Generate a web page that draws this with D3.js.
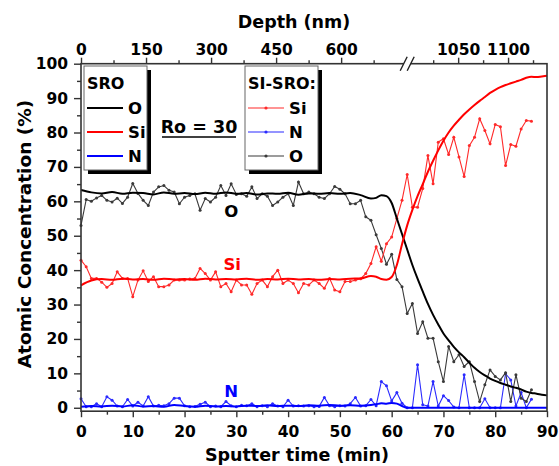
<!DOCTYPE html>
<html>
<head>
<meta charset="utf-8">
<script src="https://cdn.jsdelivr.net/npm/d3@7"></script>
<style>
  body { margin: 0; background: #fff; }
  svg { display: block; font-family: "DejaVu Sans", sans-serif; font-weight: bold; }
</style>
</head>
<body>
<script>
// SRO reference profiles (smooth lines)
const sroTime = [0, 2, 4, 6, 8, 10, 12, 14, 16, 18, 20, 22, 24, 26, 28, 30, 32, 34, 36, 38, 40, 42, 44, 46, 48, 50, 52, 54, 56,
  57, 58, 59, 60, 61, 62, 63, 64, 65, 66, 67, 68, 69, 70, 71, 72, 73, 74, 75, 76, 77, 78, 79, 80, 81, 82, 83, 84, 85, 86, 87, 88, 89, 90];
const sroO = [63.3, 62.6, 62.3, 62.7, 62.2, 62.5, 62.4, 62.0, 62.6, 62.2, 62.4, 62.1, 62.5, 62.2, 62.6, 62.2, 62.4, 62.0, 62.3, 62.2, 62.5, 61.9, 62.3, 62.2, 62.4, 62.2, 62.4, 61.8, 60.8,
  61.0, 61.8, 61.5, 59.5, 55.0, 50.5, 46.0, 41.5, 37.5, 33.8, 30.2, 27.0, 24.2, 21.6, 19.6, 17.7, 16.1, 14.7, 13.1, 11.6, 10.4, 9.4, 8.5, 7.8, 7.2, 6.7, 6.2, 5.8, 5.3, 4.7, 4.3, 4.1, 3.8, 3.6];
const sroSi = [35.6, 37.0, 37.4, 37.2, 37.5, 37.3, 37.4, 37.2, 37.5, 37.3, 37.4, 37.2, 37.5, 37.3, 37.4, 37.3, 37.5, 37.2, 37.4, 37.3, 37.5, 37.3, 37.4, 37.2, 37.4, 37.3, 37.5, 37.6, 38.3,
  38.1, 37.4, 37.2, 38.0, 41.5, 47.5, 53.0, 57.5, 61.5, 65.0, 68.6, 71.8, 74.8, 77.6, 80.0, 82.0, 83.7, 85.3, 86.7, 88.0, 89.2, 90.3, 91.5, 92.4, 93.2, 93.8, 94.3, 94.8, 95.3, 95.9, 96.2, 96.1, 96.3, 96.5];
const sroN = [0.3, 0.5, 0.4, 0.6, 0.4, 0.7, 0.4, 0.5, 0.3, 0.8, 0.5, 0.3, 0.6, 0.4, 0.5, 0.4, 0.6, 0.5, 0.7, 0.5, 0.6, 0.5, 0.7, 0.6, 0.8, 0.6, 0.7, 0.6, 0.8,
  1.0, 1.3, 1.2, 1.4, 1.2, 0.5, 0, 0, 0, 0, 0, 0, 0, 0, 0, 0, 0, 0, 0, 0, 0, 0, 0, 0, 0, 0, 0, 0, 0, 0, 0, 0, 0, 0];

// SI-SRO measured points (one per minute)
const scanTime = [0, 1, 2, 3, 4, 5, 6, 7, 8, 9, 10, 11, 12, 13, 14, 15, 16, 17, 18, 19, 20, 21, 22, 23, 24, 25, 26, 27, 28, 29,
  30, 31, 32, 33, 34, 35, 36, 37, 38, 39, 40, 41, 42, 43, 44, 45, 46, 47, 48, 49, 50, 51, 52, 53, 54, 55, 56, 57, 58, 59,
  60, 61, 62, 63, 64, 65, 66, 67, 68, 69, 70, 71, 72, 73, 74, 75, 76, 77, 78, 79, 80, 81, 82, 83, 84, 85, 86, 87];
const siSi = [42.9, 41.0, 37.6, 37.6, 36.5, 35.0, 36.1, 39.5, 37.6, 37.6, 32.3, 37.1, 39.8, 36.7, 38.1, 35.2, 35.2, 35.7, 37.1, 37.1, 37.1, 37.4, 37.6, 40.5, 39.0, 37.1, 39.5, 35.2, 36.1, 33.7,
  37.1, 35.7, 35.7, 33.0, 36.1, 37.1, 35.2, 38.1, 40.0, 36.1, 37.1, 36.1, 33.4, 36.1, 35.7, 37.1, 36.1, 34.7, 37.6, 34.2, 33.7, 36.7, 36.7, 37.1, 37.5, 39.0, 41.9, 46.8, 42.6, 47.7,
  49.6, 55.0, 60.3, 67.8, 58.3, 58.3, 63.7, 73.3, 65.1, 77.2, 78.2, 73.6, 78.6, 72.9, 67.2, 76.2, 78.6, 84.0, 80.6, 76.7, 82.3, 81.7, 70.4, 76.5, 76.0, 81.0, 83.5, 83.3];
const siN = [2.6, 0.3, 0.3, 1.2, 0.3, 3.2, 2.2, 0.5, 0.3, 2.4, 0.5, 1.6, 0.5, 3.2, 0.5, 0.7, 0.6, 1.2, 2.8, 2.8, 0.6, 0.3, 0.4, 1.0, 1.6, 0.3, 0.5, 0.3, 1.8, 0.6,
  0.3, 0.7, 0.6, 1.2, 0.3, 0.6, 0.3, 1.2, 0.5, 0.3, 2.2, 0.5, 0.6, 0.5, 0.6, 0.3, 0.4, 3.0, 0.6, 0.3, 0.6, 0.5, 1.2, 3.0, 0.5, 0.6, 2.4, 0.6, 7.6, 6.4,
  2.0, 4.4, 1.3, 0, 0, 12.5, 0.9, 0.5, 7.6, 0.5, 3.5, 2.1, 0.2, 0, 9.6, 0, 0, 0, 2.6, 0, 0, 0, 9.9, 8.1, 0.5, 4.4, 0, 2.5];
const siO = [53.0, 60.5, 60.0, 61.0, 61.7, 60.3, 59.8, 60.9, 59.4, 61.2, 65.2, 62.3, 60.3, 58.8, 62.7, 64.2, 64.6, 63.2, 62.7, 59.3, 61.2, 61.7, 62.2, 57.4, 60.8, 59.8, 61.2, 64.6, 61.7, 65.1,
  62.0, 62.2, 61.5, 64.2, 60.8, 62.2, 61.5, 58.8, 59.8, 61.2, 62.2, 58.8, 65.6, 62.2, 62.7, 62.2, 61.2, 60.8, 62.2, 64.3, 63.5, 62.2, 59.3, 59.3, 60.3, 55.5, 54.5, 50.3, 46.3, 41.7,
  44.6, 37.3, 35.2, 27.4, 30.3, 21.6, 25.0, 20.2, 20.2, 13.4, 7.6, 17.8, 13.4, 15.4, 12.0, 13.4, 7.6, 1.8, 6.7, 11.0, 9.1, 8.1, 10.2, 1.8, 9.6, 2.8, 1.8, 5.2];

// axis ticks
const yTicks = [0, 10, 20, 30, 40, 50, 60, 70, 80, 90, 100];
const yMinor = [5, 15, 25, 35, 45, 55, 65, 75, 85, 95];
const xTicks = [0, 10, 20, 30, 40, 50, 60, 70, 80, 90];
const xMinor = [5, 15, 25, 35, 45, 55, 65, 75, 85];
const depthTicks = [0, 150, 300, 450, 600, 1050, 1100];
const depthMinor = [75, 225, 375, 525, 675, 1025, 1075, 1125];
// broken depth axis: depth (nm) -> sputter time (min)
const depthKnots = [0, 750, 1000, 1139];
const depthAtTime = [0, 62.8, 63.2, 90];

var draw = function() {
  let width = 559, height = 466;
  let margin = {left: 81, right: 12, top: 63.7, bottom: 54.8};

  let x = d3.scaleLinear().domain([0, 90]).range([margin.left, width - margin.right]);
  let y = d3.scaleLinear().domain([-1, 100]).range([height - margin.bottom, margin.top]);
  let depth = d3.scaleLinear().domain(depthKnots).range(depthAtTime.map(x));

  let svg = d3.select("body")
              .append("svg")
              .attr("width", width)
              .attr("height", height);

  let lineSpec = d3.line()
                   .x(d => x(d[0]))
                   .y(d => y(d[1]));

  let noisy = [
    {vals: siN, color: "#2a2aff"},
    {vals: siO, color: "#3a3a3a"},
    {vals: siSi, color: "#ff2a2a"},
  ];
  noisy.forEach(s => {
    let pts = scanTime.map((t, i) => [t, s.vals[i]]);
    svg.append("path")
       .datum(pts)
       .attr("fill", "none")
       .attr("stroke", s.color)
       .attr("stroke-width", 1.1)
       .attr("d", lineSpec);
    svg.append("g")
       .selectAll("circle")
       .data(pts)
       .join("circle")
       .attr("cx", d => x(d[0]))
       .attr("cy", d => y(d[1]))
       .attr("r", 1.5)
       .attr("fill", s.color);
  });

  let smooth = [
    {vals: sroN, color: "#0000ff"},
    {vals: sroO, color: "#000000"},
    {vals: sroSi, color: "#ff0000"},
  ];
  let smoothSpec = d3.line()
                     .x(d => x(d[0]))
                     .y(d => y(d[1]))
                     .curve(d3.curveMonotoneX);
  smooth.forEach(s => {
    svg.append("path")
       .datum(sroTime.map((t, i) => [t, s.vals[i]]))
       .attr("fill", "none")
       .attr("stroke", s.color)
       .attr("stroke-width", 2)
       .attr("d", smoothSpec);
  });

  // axes
  let axisColor = "#333";
  let styleAxis = function(g) {
    g.select(".domain").remove();
    g.selectAll("line").attr("stroke", axisColor).attr("stroke-width", 1.4);
    g.selectAll("text").attr("fill", "#000").attr("font-size", "15.5px")
     .attr("font-family", "DejaVu Sans").attr("font-weight", "bold");
  };

  svg.append("g")
     .attr("transform", `translate(${margin.left},0)`)
     .call(d3.axisLeft(y).tickValues(yTicks).tickSize(7).tickPadding(6))
     .call(styleAxis);
  svg.append("g")
     .attr("transform", `translate(${margin.left},0)`)
     .call(d3.axisLeft(y).tickValues(yMinor).tickSize(4).tickFormat(""))
     .call(styleAxis);

  svg.append("g")
     .attr("transform", `translate(0,${height - margin.bottom})`)
     .call(d3.axisBottom(x).tickValues(xTicks).tickSize(6).tickPadding(9))
     .call(styleAxis);
  svg.append("g")
     .attr("transform", `translate(0,${height - margin.bottom})`)
     .call(d3.axisBottom(x).tickValues(xMinor).tickSize(3.5).tickFormat(""))
     .call(styleAxis);

  svg.append("g")
     .attr("transform", `translate(0,${margin.top})`)
     .call(d3.axisTop(depth).tickValues(depthTicks).tickSize(6).tickPadding(3).tickFormat(d3.format("d")))
     .call(styleAxis);
  svg.append("g")
     .attr("transform", `translate(0,${margin.top})`)
     .call(d3.axisTop(depth).tickValues(depthMinor).tickSize(3.5).tickFormat(""))
     .call(styleAxis);

  // frame
  svg.append("rect")
     .attr("x", margin.left)
     .attr("y", margin.top)
     .attr("width", width - margin.left - margin.right)
     .attr("height", height - margin.top - margin.bottom)
     .attr("fill", "none")
     .attr("stroke", axisColor)
     .attr("stroke-width", 1.6);

  // axis break marks on the depth axis
  let bx = depth(875);
  svg.append("rect")
     .attr("x", bx - 3.5).attr("y", margin.top - 2)
     .attr("width", 7).attr("height", 4)
     .attr("fill", "#fff");
  [-3.5, 3.5].forEach(off => {
    svg.append("line")
       .attr("x1", bx + off - 3.5).attr("y1", margin.top + 7)
       .attr("x2", bx + off + 3.5).attr("y2", margin.top - 7)
       .attr("stroke", "#222")
       .attr("stroke-width", 1.4);
  });

  // titles
  svg.append("text")
     .attr("x", 294).attr("y", 28)
     .attr("text-anchor", "middle")
     .attr("font-size", "17.5px")
     .text("Depth (nm)");
  svg.append("text")
     .attr("x", 297).attr("y", 461)
     .attr("text-anchor", "middle")
     .attr("font-size", "17.5px")
     .text("Sputter time (min)");
  svg.append("text")
     .attr("transform", "translate(31,234) rotate(-90)")
     .attr("text-anchor", "middle")
     .attr("font-size", "18.5px")
     .text("Atomic Concentration (%)");

  // curve labels
  svg.append("text").attr("x", x(29)).attr("y", y(55.5)).attr("text-anchor", "middle")
     .attr("font-size", "16.5px").attr("fill", "#000").text("O");
  svg.append("text").attr("x", x(29.2)).attr("y", y(40)).attr("text-anchor", "middle")
     .attr("font-size", "16.5px").attr("fill", "#ff0000").text("Si");
  svg.append("text").attr("x", x(29)).attr("y", y(3.1)).attr("text-anchor", "middle")
     .attr("font-size", "16.5px").attr("fill", "#0000ff").text("N");

  // Ro = 30
  svg.append("text")
     .attr("x", 199).attr("y", 133)
     .attr("text-anchor", "middle")
     .attr("font-size", "17.5px")
     .text("Ro = 30");
  svg.append("line")
     .attr("x1", 162).attr("x2", 236)
     .attr("y1", 137).attr("y2", 137)
     .attr("stroke", "#000").attr("stroke-width", 1.5);

  // legends
  let legend = function(bx, by, bw, bh, title, items, dotted) {
    svg.append("rect")
       .attr("x", bx + 4).attr("y", by + 4)
       .attr("width", bw).attr("height", bh)
       .attr("fill", "#000");
    svg.append("rect")
       .attr("x", bx).attr("y", by)
       .attr("width", bw).attr("height", bh)
       .attr("fill", "#fff")
       .attr("stroke", "#666")
       .attr("stroke-width", 1);
    svg.append("text")
       .attr("x", bx + 3).attr("y", by + 23)
       .attr("font-size", "16px")
       .text(title);
    items.forEach((it, i) => {
      let ly = by + 42 + i * 24;
      svg.append("line")
         .attr("x1", bx + 3).attr("x2", bx + 39)
         .attr("y1", ly).attr("y2", ly)
         .attr("stroke", it.color)
         .attr("stroke-width", dotted ? 1.1 : 2);
      if (dotted) {
        svg.append("circle")
           .attr("cx", bx + 21).attr("cy", ly)
           .attr("r", 1.6)
           .attr("fill", it.color);
      }
      svg.append("text")
         .attr("x", bx + 44).attr("y", ly + 6)
         .attr("font-size", "16.5px")
         .text(it.name);
    });
  };
  legend(84, 66, 63, 104, "SRO",
         [{name: "O", color: "#000"}, {name: "Si", color: "#ff0000"}, {name: "N", color: "#0000ff"}], false);
  legend(245, 66, 73, 104, "SI-SRO:",
         [{name: "Si", color: "#ff2a2a"}, {name: "N", color: "#2a2aff"}, {name: "O", color: "#3a3a3a"}], true);

  console.log("finished");
};

draw();
</script>
</body>
</html>
